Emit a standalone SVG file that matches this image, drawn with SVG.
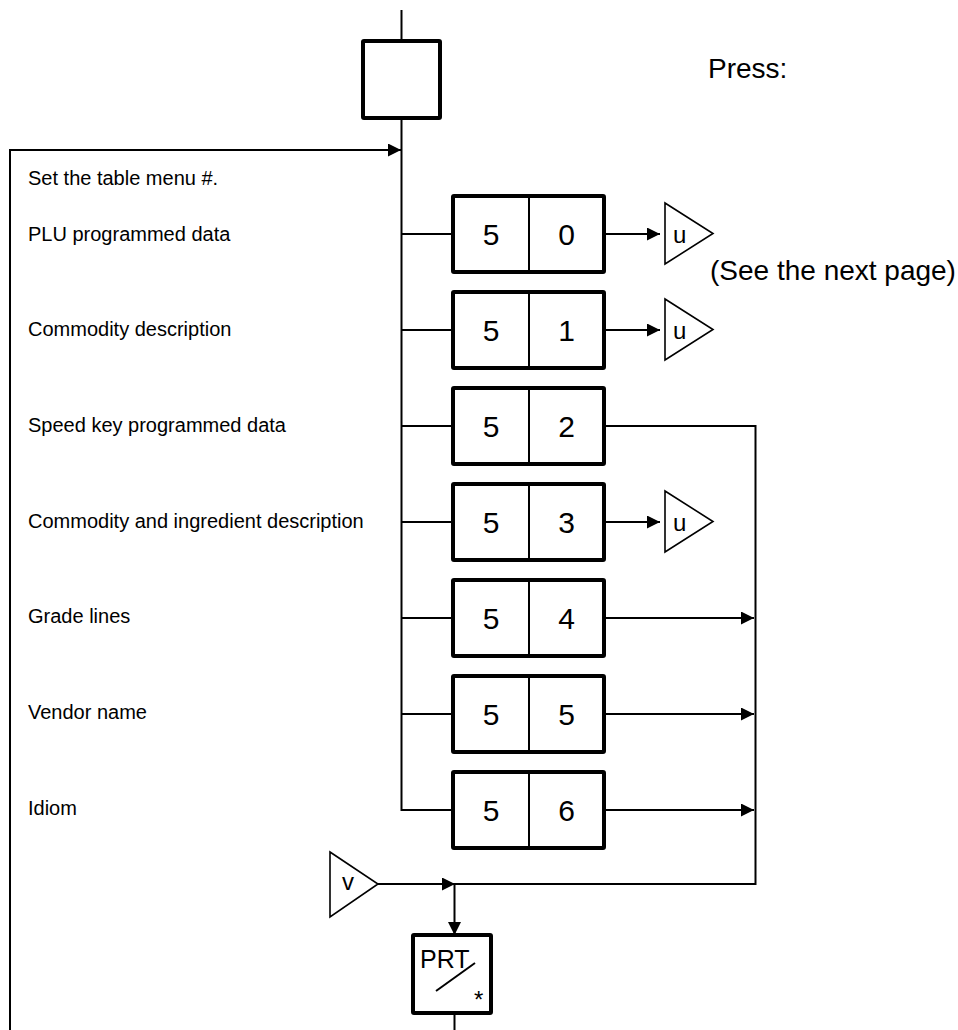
<svg xmlns="http://www.w3.org/2000/svg" width="958" height="1030" viewBox="0 0 958 1030">
<style>
text{font-family:"Liberation Sans",Arial,sans-serif;fill:#000}
.lbl{font-size:20px}
.big{font-size:28px}
.dig{font-size:30px;text-anchor:middle}
.tri{font-size:24px}
.ln{fill:none;stroke:#000;stroke-width:2}
.box{fill:#fff;stroke:#000;stroke-width:4;stroke-linejoin:round}
.div{stroke:#000;stroke-width:2}
.tr{fill:#fff;stroke:#000;stroke-width:1.6;stroke-linejoin:miter}
.arr{fill:none;stroke:#000;stroke-width:2;marker-end:url(#ah)}
</style>
<defs>
<marker id="ah" markerUnits="userSpaceOnUse" markerWidth="14" markerHeight="14" refX="13" refY="6.5" orient="auto" viewBox="0 0 14 14">
<path d="M0,0 L13,6.5 L0,13 z" fill="#000"/>
</marker>
</defs>
<g id="connectors">
<path class="ln" d="M401.5,10 V41"/>
<path class="ln" d="M401.5,118 V810 H453"/>
<path class="ln" d="M10,1030 V150 H388"/>
<path class="arr" d="M388,150 H401"/>
<path class="ln" d="M401.5,234 H453 M401.5,330 H453 M401.5,426 H453 M401.5,522 H453 M401.5,618 H453 M401.5,714 H453"/>
<path class="arr" d="M604,234 H660"/>
<path class="arr" d="M604,330 H660"/>
<path class="arr" d="M604,522 H660"/>
<path class="ln" d="M604,426 H755.5 V884 H454.5"/>
<path class="arr" d="M604,618 H754"/>
<path class="arr" d="M604,714 H754"/>
<path class="arr" d="M604,810 H754"/>
<path class="arr" d="M378,884 H455"/>
<path class="arr" d="M454.5,884 V935"/>
<path class="ln" d="M454.5,1013 V1030"/>
</g>
<g id="start"><rect class="box" x="363" y="41" width="77" height="77" rx="1"/></g>
<g id="labels">
<text class="big" x="708" y="78">Press:</text>
<text class="lbl" x="28" y="185">Set the table menu #.</text>
<text class="lbl" x="28" y="241">PLU programmed data</text>
<text class="lbl" x="28" y="336">Commodity description</text>
<text class="lbl" x="28" y="432">Speed key programmed data</text>
<text class="lbl" x="28" y="528">Commodity and ingredient description</text>
<text class="lbl" x="28" y="623">Grade lines</text>
<text class="lbl" x="28" y="719">Vendor name</text>
<text class="lbl" x="28" y="815">Idiom</text>
<text class="big" x="710" y="280">(See the next page)</text>
</g>
<g id="key50"><rect class="box" x="453" y="196" width="151" height="76" rx="1"/><line class="div" x1="529" y1="196" x2="529" y2="272"/><text class="dig" x="491" y="245">5</text><text class="dig" x="566.5" y="245">0</text></g>
<g id="key51"><rect class="box" x="453" y="292" width="151" height="76" rx="1"/><line class="div" x1="529" y1="292" x2="529" y2="368"/><text class="dig" x="491" y="341">5</text><text class="dig" x="566.5" y="341">1</text></g>
<g id="key52"><rect class="box" x="453" y="388" width="151" height="76" rx="1"/><line class="div" x1="529" y1="388" x2="529" y2="464"/><text class="dig" x="491" y="437">5</text><text class="dig" x="566.5" y="437">2</text></g>
<g id="key53"><rect class="box" x="453" y="484" width="151" height="76" rx="1"/><line class="div" x1="529" y1="484" x2="529" y2="560"/><text class="dig" x="491" y="533">5</text><text class="dig" x="566.5" y="533">3</text></g>
<g id="key54"><rect class="box" x="453" y="580" width="151" height="76" rx="1"/><line class="div" x1="529" y1="580" x2="529" y2="656"/><text class="dig" x="491" y="629">5</text><text class="dig" x="566.5" y="629">4</text></g>
<g id="key55"><rect class="box" x="453" y="676" width="151" height="76" rx="1"/><line class="div" x1="529" y1="676" x2="529" y2="752"/><text class="dig" x="491" y="725">5</text><text class="dig" x="566.5" y="725">5</text></g>
<g id="key56"><rect class="box" x="453" y="772" width="151" height="76" rx="1"/><line class="div" x1="529" y1="772" x2="529" y2="848"/><text class="dig" x="491" y="821">5</text><text class="dig" x="566.5" y="821">6</text></g>
<g id="u50"><polygon class="tr" points="665,203 713,233.5 665,264"/><text class="tri" x="673" y="243">u</text></g>
<g id="u51"><polygon class="tr" points="665,299 713,329.5 665,360"/><text class="tri" x="673" y="339">u</text></g>
<g id="u53"><polygon class="tr" points="665,491 713,521.5 665,552"/><text class="tri" x="673" y="531">u</text></g>
<g id="v"><polygon class="tr" points="330,852 378,884 330,917"/><text class="tri" x="342" y="890">v</text></g>
<g id="prt"><rect class="box" x="413" y="935" width="78" height="78" rx="1"/><text x="420" y="968" style="font-size:25px">PRT</text><line class="div" x1="436" y1="991" x2="475" y2="963"/><text x="474" y="1008" style="font-size:24px">*</text></g>
</svg>
